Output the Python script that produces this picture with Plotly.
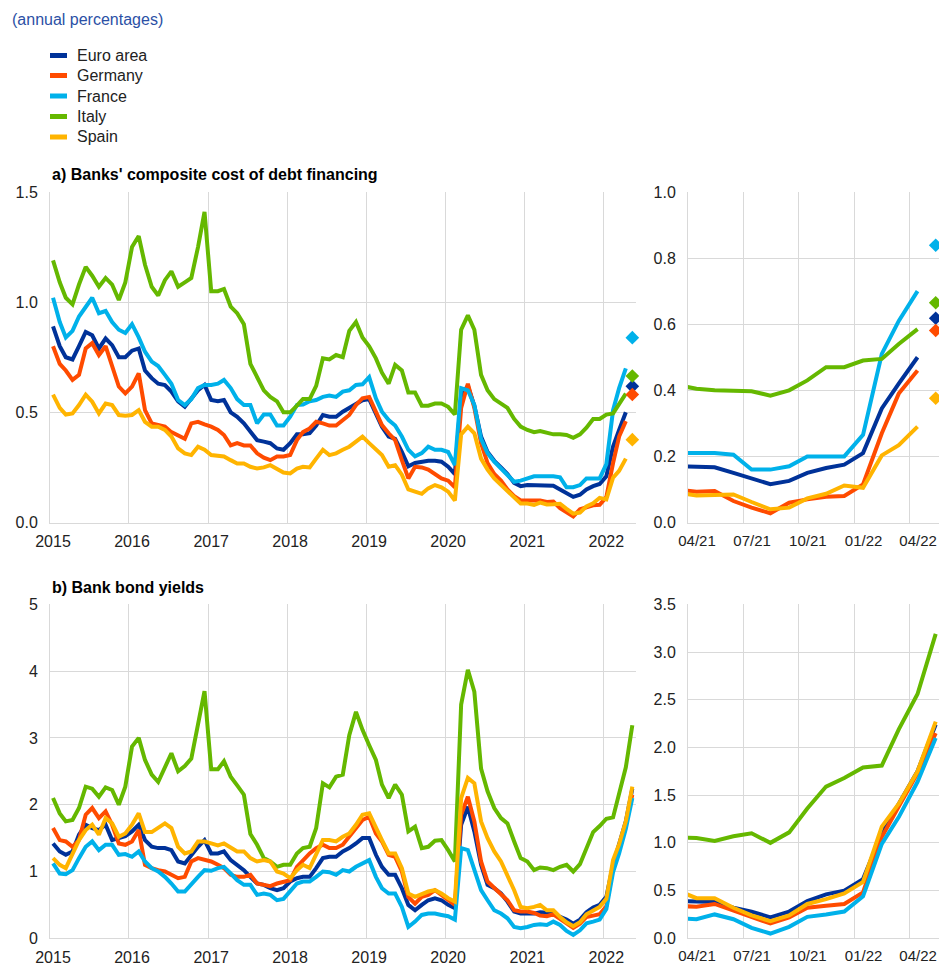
import pandas as pd
import plotly.graph_objects as go

# ---------------- data ----------------
series_names = ["Euro area", "Germany", "France", "Italy", "Spain"]
colors = ["#003299", "#FF4B00", "#00B1EA", "#65B800", "#FFB400"]

# monthly, Jan 2015 .. Apr 2022 (panel a), mid-month observations
euro_a = [0.89, 0.80, 0.75, 0.74, 0.80, 0.865, 0.85, 0.79, 0.835, 0.805, 0.75, 0.75,
          0.78, 0.79, 0.69, 0.655, 0.63, 0.624, 0.594, 0.55, 0.526, 0.56, 0.60, 0.624,
          0.556, 0.55, 0.556, 0.50, 0.48, 0.45, 0.41, 0.374, 0.367, 0.36, 0.336, 0.33,
          0.36, 0.40, 0.40, 0.405, 0.44, 0.488, 0.48, 0.48, 0.503, 0.52, 0.54, 0.555,
          0.56, 0.49, 0.435, 0.39, 0.38, 0.32, 0.255, 0.27, 0.276, 0.28, 0.28, 0.276,
          0.253, 0.22, 0.58, 0.62, 0.53, 0.39, 0.32, 0.28, 0.25, 0.22, 0.18, 0.165,
          0.17, 0.17, 0.17, 0.17, 0.167, 0.15, 0.133, 0.116, 0.126, 0.15, 0.165, 0.175,
          0.21, 0.345, 0.42, 0.50]
germany_a = [0.80, 0.72, 0.69, 0.647, 0.67, 0.79, 0.814, 0.76, 0.80, 0.715, 0.617, 0.586,
             0.617, 0.677, 0.51, 0.45, 0.442, 0.435, 0.41, 0.397, 0.38, 0.45, 0.457, 0.445,
             0.435, 0.42, 0.397, 0.35, 0.36, 0.35, 0.35, 0.314, 0.294, 0.283, 0.30, 0.30,
             0.306, 0.374, 0.41, 0.427, 0.457, 0.45, 0.44, 0.44, 0.465, 0.488, 0.533, 0.564,
             0.57, 0.503, 0.442, 0.405, 0.374, 0.283, 0.20, 0.253, 0.25, 0.24, 0.217, 0.20,
             0.19, 0.16, 0.52, 0.63, 0.52, 0.36, 0.27, 0.22, 0.19, 0.15, 0.12, 0.10,
             0.10, 0.10, 0.10, 0.093, 0.095, 0.065, 0.045, 0.028, 0.06, 0.07, 0.078, 0.08,
             0.115, 0.27, 0.39, 0.46]
france_a = [1.02, 0.91, 0.84, 0.87, 0.935, 0.98, 1.02, 0.95, 0.96, 0.91, 0.875, 0.86,
            0.90, 0.84, 0.775, 0.73, 0.71, 0.67, 0.63, 0.556, 0.533, 0.56, 0.61, 0.624,
            0.624, 0.63, 0.647, 0.61, 0.56, 0.533, 0.533, 0.45, 0.49, 0.49, 0.44, 0.44,
            0.48, 0.533, 0.535, 0.55, 0.556, 0.57, 0.576, 0.57, 0.594, 0.60, 0.624, 0.627,
            0.66, 0.564, 0.503, 0.465, 0.44, 0.39, 0.33, 0.30, 0.315, 0.344, 0.33, 0.33,
            0.32, 0.26, 0.61, 0.60, 0.533, 0.38, 0.315, 0.276, 0.245, 0.22, 0.185, 0.19,
            0.20, 0.21, 0.21, 0.21, 0.21, 0.205, 0.16, 0.16, 0.17, 0.20, 0.20, 0.20,
            0.265, 0.51, 0.61, 0.70]
italy_a = [1.19, 1.09, 1.02, 0.99, 1.08, 1.16, 1.12, 1.07, 1.11, 1.08, 1.01, 1.09,
           1.25, 1.30, 1.17, 1.07, 1.03, 1.10, 1.14, 1.07, 1.09, 1.11, 1.25, 1.41,
           1.05, 1.05, 1.06, 0.98, 0.95, 0.90, 0.72, 0.655, 0.60, 0.57, 0.55, 0.50,
           0.50, 0.53, 0.56, 0.56, 0.62, 0.745, 0.74, 0.76, 0.75, 0.87, 0.91, 0.84,
           0.80, 0.745, 0.68, 0.63, 0.715, 0.69, 0.59, 0.59, 0.53, 0.53, 0.54, 0.54,
           0.525, 0.49, 0.875, 0.94, 0.875, 0.67, 0.60, 0.56, 0.54, 0.52, 0.47, 0.435,
           0.42, 0.41, 0.415, 0.405, 0.40, 0.40, 0.397, 0.384, 0.40, 0.43, 0.47, 0.47,
           0.49, 0.495, 0.54, 0.585]
spain_a = [0.58, 0.52, 0.49, 0.495, 0.533, 0.58, 0.548, 0.495, 0.54, 0.533, 0.488, 0.485,
           0.488, 0.51, 0.457, 0.435, 0.435, 0.42, 0.39, 0.336, 0.314, 0.306, 0.344, 0.33,
           0.306, 0.303, 0.30, 0.283, 0.268, 0.268, 0.253, 0.245, 0.25, 0.26, 0.245, 0.227,
           0.223, 0.245, 0.253, 0.25, 0.29, 0.33, 0.306, 0.314, 0.33, 0.344, 0.367, 0.39,
           0.36, 0.33, 0.306, 0.253, 0.26, 0.217, 0.15, 0.14, 0.13, 0.155, 0.17, 0.16,
           0.14, 0.10, 0.40, 0.435, 0.405, 0.29, 0.24, 0.20, 0.17, 0.14, 0.11, 0.086,
           0.086, 0.08, 0.09, 0.082, 0.083, 0.085, 0.062, 0.04, 0.045, 0.073, 0.087, 0.112,
           0.105, 0.203, 0.234, 0.29]
# May 2022 estimates (diamonds)
diamond_a = [0.618, 0.581, 0.839, 0.665, 0.376]

# monthly, Jan 2015 .. May 2022 (panel b)
euro_b = [1.42, 1.30, 1.25, 1.30, 1.55, 1.70, 1.65, 1.62, 1.70, 1.47, 1.50, 1.53,
          1.60, 1.70, 1.47, 1.37, 1.35, 1.35, 1.32, 1.15, 1.12, 1.25, 1.37, 1.47,
          1.27, 1.27, 1.30, 1.17, 1.10, 1.02, 0.92, 0.82, 0.80, 0.75, 0.72, 0.75,
          0.85, 0.90, 0.92, 0.92, 1.05, 1.20, 1.22, 1.22, 1.30, 1.35, 1.42, 1.50,
          1.50, 1.25, 1.07, 0.95, 0.95, 0.75, 0.50, 0.42, 0.50, 0.57, 0.60, 0.57,
          0.50, 0.45, 1.70, 1.97, 1.60, 1.10, 0.80, 0.75, 0.67, 0.55, 0.40, 0.37,
          0.37, 0.37, 0.39, 0.38, 0.38, 0.32, 0.28, 0.22, 0.28, 0.39, 0.46, 0.50,
          0.62, 1.10, 1.41, 1.75, 2.24]
germany_b = [1.65, 1.47, 1.45, 1.37, 1.47, 1.85, 1.95, 1.80, 1.90, 1.70, 1.42, 1.40,
             1.45, 1.62, 1.10, 1.05, 1.02, 1.00, 0.95, 0.90, 0.92, 1.15, 1.20, 1.17,
             1.15, 1.10, 1.05, 0.95, 0.92, 0.92, 0.95, 0.82, 0.80, 0.78, 0.82, 0.85,
             0.87, 1.07, 1.17, 1.27, 1.35, 1.40, 1.35, 1.35, 1.40, 1.52, 1.65, 1.77,
             1.82, 1.57, 1.45, 1.25, 1.22, 1.00, 0.62, 0.52, 0.62, 0.65, 0.72, 0.65,
             0.57, 0.50, 1.85, 2.12, 1.75, 1.15, 0.85, 0.75, 0.65, 0.57, 0.42, 0.40,
             0.40, 0.38, 0.34, 0.33, 0.36, 0.29, 0.22, 0.155, 0.22, 0.32, 0.34, 0.36,
             0.48, 1.06, 1.38, 1.73, 2.15]
france_b = [1.12, 0.97, 0.96, 1.02, 1.20, 1.37, 1.45, 1.32, 1.40, 1.40, 1.25, 1.26,
            1.22, 1.30, 1.15, 1.05, 1.00, 0.92, 0.82, 0.70, 0.70, 0.82, 0.92, 1.02,
            1.01, 1.05, 1.07, 0.97, 0.87, 0.80, 0.80, 0.65, 0.67, 0.65, 0.57, 0.59,
            0.70, 0.82, 0.85, 0.85, 0.92, 1.00, 0.99, 0.95, 1.02, 1.00, 1.07, 1.12,
            1.17, 0.92, 0.75, 0.67, 0.67, 0.47, 0.17, 0.25, 0.35, 0.37, 0.37, 0.35,
            0.33, 0.28, 1.35, 1.32, 1.00, 0.72, 0.57, 0.42, 0.37, 0.30, 0.17, 0.15,
            0.17, 0.20, 0.21, 0.20, 0.25, 0.20, 0.11, 0.05, 0.12, 0.225, 0.25, 0.28,
            0.44, 0.99, 1.27, 1.64, 2.10]
italy_b = [2.10, 1.87, 1.75, 1.77, 1.95, 2.27, 2.24, 2.12, 2.26, 2.22, 2.00, 2.27,
           2.87, 3.00, 2.67, 2.45, 2.34, 2.55, 2.77, 2.50, 2.58, 2.69, 3.19, 3.70,
           2.53, 2.53, 2.65, 2.42, 2.29, 2.15, 1.56, 1.40, 1.20, 1.15, 1.07, 1.10,
           1.10, 1.27, 1.35, 1.37, 1.65, 2.32, 2.26, 2.42, 2.45, 3.04, 3.39, 3.12,
           2.89, 2.67, 2.30, 2.10, 2.30, 2.15, 1.60, 1.67, 1.35, 1.37, 1.46, 1.47,
           1.32, 1.15, 3.50, 4.02, 3.69, 2.54, 2.20, 1.95, 1.80, 1.72, 1.45, 1.20,
           1.15, 1.02, 1.06, 1.05, 1.02, 1.07, 1.10, 1.00, 1.11, 1.36, 1.59, 1.68,
           1.79, 1.81, 2.19, 2.56, 3.19]
spain_b = [1.20, 1.10, 1.05, 1.27, 1.47, 1.62, 1.70, 1.55, 1.80, 1.72, 1.52, 1.57,
           1.70, 1.87, 1.59, 1.59, 1.65, 1.72, 1.65, 1.37, 1.27, 1.30, 1.45, 1.45,
           1.42, 1.39, 1.42, 1.35, 1.30, 1.30, 1.20, 1.15, 1.17, 1.15, 1.00, 0.97,
           0.90, 1.02, 1.10, 1.05, 1.25, 1.47, 1.47, 1.45, 1.52, 1.57, 1.70, 1.85,
           1.87, 1.65, 1.47, 1.27, 1.27, 1.05, 0.67, 0.62, 0.66, 0.70, 0.72, 0.67,
           0.60, 0.55, 2.10, 2.40, 2.32, 1.75, 1.50, 1.30, 1.15, 0.95, 0.72, 0.47,
           0.45, 0.47, 0.50, 0.42, 0.42, 0.32, 0.24, 0.18, 0.24, 0.36, 0.41, 0.47,
           0.59, 1.17, 1.41, 1.75, 2.27]

year_ticks = ["2015", "2016", "2017", "2018", "2019", "2020", "2021", "2022"]
zoom_ticks = ["04/21", "07/21", "10/21", "01/22", "04/22"]

panel_a = [euro_a, germany_a, france_a, italy_a, spain_a]
panel_b = [euro_b, germany_b, france_b, italy_b, spain_b]

dates_a = pd.date_range("2015-01-01", periods=len(euro_a), freq="MS") + pd.Timedelta(days=14)
dates_b = pd.date_range("2015-01-01", periods=len(euro_b), freq="MS") + pd.Timedelta(days=14)
diamond_date = pd.Timestamp("2022-05-15")

# ---------------- layout geometry ----------------
# the page body adds an 8px margin, so the figure is 8px smaller and
# target screen coordinates are shifted by 8px
OFF = 8
W, H = 947 - OFF, 976 - OFF
def fx(x):
    return (x - OFF) / W
def fy(y):
    return 1 - (y - OFF) / H

FONT = "Liberation Sans, Arial, sans-serif"
GRID = "#d9d9d9"
TXT = "#222222"

fig = go.Figure()

def add_lines(data, dates, xa, ya, width):
    for name, col, vals in zip(series_names, colors, data):
        fig.add_trace(go.Scatter(x=dates, y=vals, mode="lines", name=name,
                                 line=dict(color=col, width=width),
                                 xaxis=xa, yaxis=ya, showlegend=False,
                                 hoverinfo="skip"))

add_lines(panel_a, dates_a, "x", "y", 4)
add_lines(panel_a, dates_a, "x2", "y2", 4)
add_lines(panel_b, dates_b, "x3", "y3", 4)
add_lines(panel_b, dates_b, "x4", "y4", 4)

for xa, ya in (("x", "y"), ("x2", "y2")):
    for name, col, v in zip(series_names, colors, diamond_a):
        fig.add_trace(go.Scatter(x=[diamond_date], y=[v], mode="markers",
                                 marker=dict(symbol="diamond", size=10.5, color=col),
                                 xaxis=xa, yaxis=ya, showlegend=False,
                                 cliponaxis=False, hoverinfo="skip"))

year_vals = [f"{y}-01-01" for y in year_ticks]
zoom_vals = ["2021-04-01", "2021-07-01", "2021-10-01", "2022-01-01", "2022-04-01"]

def xaxis(domain, anchor, rng, tickvals, ticktext, shift, size):
    return dict(domain=domain, anchor=anchor, type="date", range=rng,
                tickmode="array", tickvals=tickvals, ticktext=ticktext,
                ticklabelshift=shift, automargin=False,
                showgrid=True, gridcolor=GRID, gridwidth=1,
                showline=True, linecolor=GRID, linewidth=1,
                ticks="outside", ticklen=4, tickcolor="rgba(0,0,0,0)",
                tickfont=dict(family=FONT, size=size, color=TXT),
                zeroline=False, fixedrange=True)

def yaxis(domain, anchor, rng, dtick, fmt):
    return dict(domain=domain, anchor=anchor, range=rng, dtick=dtick, tick0=0,
                tickformat=fmt, automargin=False,
                showgrid=True, gridcolor=GRID, gridwidth=1,
                showline=True, linecolor=GRID, linewidth=1,
                ticks="outside", ticklen=8, tickcolor="rgba(0,0,0,0)",
                tickfont=dict(family=FONT, size=16, color=TXT),
                zeroline=False, fixedrange=True)

xL = [fx(50), fx(636)]
xR = [fx(688), fx(946)]
yT = [fy(522.5), fy(192)]
yB = [fy(938.3), fy(604.3)]

fig.update_layout(
    template="none",
    width=W, height=H,
    autosize=False,
    margin=dict(l=0, r=0, t=0, b=0, pad=0),
    paper_bgcolor="white", plot_bgcolor="white",
    showlegend=False,
    font=dict(family=FONT, size=16, color=TXT),
    xaxis=xaxis(xL, "y", ["2015-01-01", "2022-06-01"], year_vals, year_ticks, 3, 16),
    yaxis=yaxis(yT, "x", [0, 1.5], 0.5, ".1f"),
    xaxis2=xaxis(xR, "y2", ["2021-04-01", "2022-06-01"], zoom_vals, zoom_ticks, 9, 15),
    yaxis2=yaxis(yT, "x2", [0, 1.0], 0.2, ".1f"),
    xaxis3=xaxis(xL, "y3", ["2015-01-01", "2022-06-01"], year_vals, year_ticks, 3, 16),
    yaxis3=yaxis(yB, "x3", [0, 5], 1, "d"),
    xaxis4=xaxis(xR, "y4", ["2021-04-01", "2022-06-01"], zoom_vals, zoom_ticks, 9, 15),
    yaxis4=yaxis(yB, "x4", [0, 3.5], 0.5, ".1f"),
)

annotations = [
    dict(text="(annual percentages)", x=fx(10), y=fy(20), xanchor="left", yanchor="middle",
         font=dict(family=FONT, size=16, color="#2B50A5")),
    dict(text="<b>a) Banks' composite cost of debt financing</b>", x=fx(50), y=fy(174),
         xanchor="left", yanchor="middle", font=dict(family=FONT, size=16, color="#000000")),
    dict(text="<b>b) Bank bond yields</b>", x=fx(50), y=fy(587),
         xanchor="left", yanchor="middle", font=dict(family=FONT, size=16, color="#000000")),
]
shapes = []
legend_y = [55.5, 75.5, 96, 116.5, 137]
for name, col, ly in zip(series_names, colors, legend_y):
    shapes.append(dict(type="rect", xref="paper", yref="paper",
                       x0=fx(50), x1=fx(67), y0=fy(ly + 2.5), y1=fy(ly - 2.5),
                       fillcolor=col, line=dict(width=0)))
    annotations.append(dict(text=name, x=fx(75), y=fy(ly), xanchor="left", yanchor="middle",
                            font=dict(family=FONT, size=16, color=TXT)))

for a in annotations:
    a.update(xref="paper", yref="paper", showarrow=False)

fig.update_layout(annotations=annotations, shapes=shapes)

fig.write_html("out.html")
